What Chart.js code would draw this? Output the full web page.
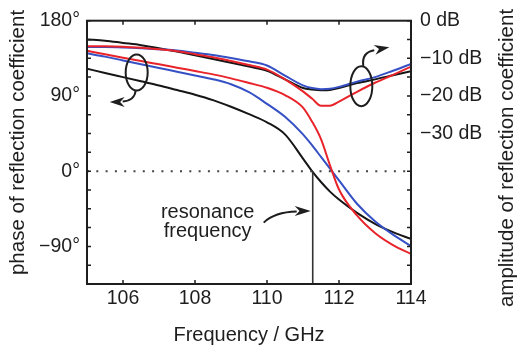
<!DOCTYPE html>
<html>
<head>
<meta charset="utf-8">
<script src="https://cdn.jsdelivr.net/npm/chart.js@4/dist/chart.umd.min.js"></script>
<style>
html,body{margin:0;padding:0;background:#fff;}
#wrap{width:517px;height:350px;}
</style>
</head>
<body>
<div id="wrap"><canvas id="c" width="517" height="350"></canvas></div>
<script>
// ---- data ----
const freq      = [105, 105.5, 106, 106.5, 107, 107.5, 108, 108.5, 109, 109.5, 110, 110.5, 111, 111.25, 111.5, 111.75, 112, 112.5, 113, 113.5, 114];
// phase of reflection coefficient (degrees, left axis)
const phaseBlack = [122.6, 117.5, 112.5, 107.5, 102.5, 97, 91.5, 85, 77, 68.2, 58.5, 44, 15, 0, -13, -24.5, -34, -50, -63, -73, -81];
const phaseBlue  = [141, 137, 132.5, 128, 123.5, 119, 114.5, 110, 104, 94.5, 80.5, 65, 44, 31, 17, 3, -11, -39, -60, -76, -89.5];
const phaseRed   = [144, 139.8, 135.7, 131.7, 127.8, 123.8, 119.8, 115.8, 111, 105.5, 99.8, 91, 76, 59.4, 38.3, 7, -22, -53, -74, -88.5, -99];
// amplitude of reflection coefficient (dB, right axis)
const ampBlack = [-5.0, -5.3, -5.9, -6.5, -7.3, -8.2, -9.2, -10.2, -11.2, -12.2, -13.3, -15.6, -17.9, -18.3, -18.5, -18.4, -17.9, -16.6, -15.6, -14.5, -13.4];
const ampBlue  = [-7.0, -7.0, -7.1, -7.3, -7.6, -7.9, -8.5, -9.1, -9.9, -10.8, -11.9, -14.6, -17.2, -17.9, -18.2, -18.1, -17.6, -16.2, -15.0, -13.3, -11.5];
const ampRed   = [-6.8, -6.8, -6.9, -7.2, -7.6, -8.1, -8.9, -9.7, -10.7, -11.8, -13.0, -15.6, -18.8, -20.7, -22.6, -22.6, -21.5, -18.9, -16.5, -14.4, -12.2];

const resonanceFreq = 111.27;
const freqRange  = [105, 114];
const phaseRange = [-135, 180];
const ampRange   = [-70, 0];

const freqTicks   = [106, 108, 110, 112, 114];
const phaseTicks  = [-90, 0, 90, 180];
const ampTicks    = [0, -10, -20, -30];
const ampMinorTicks = [0, -5, -10, -15, -20, -25, -30, -35, -40, -45, -50, -55, -60, -65, -70];

const xTitle = 'Frequency / GHz';
const yTitle = 'phase of reflection coefficient';
const y1Title = 'amplitude of reflection coefficient';
const noteLines = ['resonance', 'frequency'];

// ---- styling ----
const INK = '#1e1e1e';
const RED = '#e8232a';
const BLUE = '#3550c4';
const BLACK = '#161616';
const FONT = "'Liberation Sans', Arial, Helvetica, sans-serif";

const minus = v => (v < 0 ? '\u2212' : '') + Math.abs(v);
const pts = ys => freq.map((f, i) => ({x: f, y: ys[i]}));

function arrowHead(ctx, tx, ty, ang, len, half) {
  const bx = tx - Math.cos(ang) * len, by = ty - Math.sin(ang) * len;
  const nx = -Math.sin(ang), ny = Math.cos(ang);
  const mx = tx - Math.cos(ang) * len * 0.7, my = ty - Math.sin(ang) * len * 0.7;
  ctx.beginPath();
  ctx.moveTo(tx, ty);
  ctx.lineTo(bx + nx * half, by + ny * half);
  ctx.lineTo(mx, my);
  ctx.lineTo(bx - nx * half, by - ny * half);
  ctx.closePath();
  ctx.fill();
}

const annot = {
  id: 'annot',
  afterDraw(chart) {
    const {ctx, chartArea: a, scales: {x, y, y1}} = chart;
    ctx.save();
    ctx.strokeStyle = INK; ctx.fillStyle = INK;
    // frame
    ctx.lineWidth = 2;
    ctx.strokeRect(a.left, a.top, a.right - a.left, a.bottom - a.top);
    // inward ticks
    ctx.lineWidth = 1.5;
    ctx.beginPath();
    freqTicks.forEach(v => {
      const px = x.getPixelForValue(v);
      ctx.moveTo(px, a.bottom); ctx.lineTo(px, a.bottom - 4);
      ctx.moveTo(px, a.top); ctx.lineTo(px, a.top + 4);
    });
    ampMinorTicks.forEach(v => {
      const py = y1.getPixelForValue(v);
      ctx.moveTo(a.left, py); ctx.lineTo(a.left + 4, py);
      ctx.moveTo(a.right, py); ctx.lineTo(a.right - 4, py);
    });
    ctx.stroke();

    // left ellipse (phase curves) with arrow to the left
    ctx.lineWidth = 2;
    let cx = x.getPixelForValue(106.38), cy = y.getPixelForValue(118);
    ctx.beginPath(); ctx.ellipse(cx, cy, 11, 18, 0, 0, Math.PI * 2); ctx.stroke();
    ctx.beginPath();
    ctx.moveTo(cx - 1, cy + 18);
    ctx.quadraticCurveTo(cx - 2, cy + 28, cx - 14, cy + 29);
    ctx.stroke();
    arrowHead(ctx, cx - 27, cy + 29.5, Math.PI, 15, 5);

    // right ellipse (amplitude curves) with arrow to the right
    cx = x.getPixelForValue(112.62); cy = y1.getPixelForValue(-17.4);
    ctx.beginPath(); ctx.ellipse(cx, cy, 11, 20, 0, 0, Math.PI * 2); ctx.stroke();
    ctx.beginPath();
    ctx.moveTo(cx + 2, cy - 20);
    ctx.quadraticCurveTo(cx, cy - 34, cx + 13, cy - 36);
    ctx.stroke();
    arrowHead(ctx, cx + 28, cy - 39, -0.18, 15, 5);

    // resonance note
    const lx = x.getPixelForValue(resonanceFreq);
    const ty = y.getPixelForValue(-47.8);
    ctx.beginPath();
    ctx.moveTo(lx - 49, ty + 11.5);
    ctx.quadraticCurveTo(lx - 38, ty + 1, lx - 16, ty + 0.5);
    ctx.stroke();
    arrowHead(ctx, lx - 2, ty, 0, 16, 5);

    ctx.font = `20px ${FONT}`;
    ctx.textAlign = 'center'; ctx.textBaseline = 'alphabetic';
    const nx = x.getPixelForValue(108.35);
    ctx.fillText(noteLines[0], nx, ty + 6.5);
    ctx.fillText(noteLines[1], nx, ty + 26);

    // y axis titles (both read bottom-to-top)
    ctx.font = `20.5px ${FONT}`;
    ctx.textBaseline = 'middle';
    ctx.save();
    ctx.translate(18, 142.5); ctx.rotate(-Math.PI / 2);
    ctx.fillText(yTitle, 0, 0);
    ctx.restore();
    ctx.save();
    ctx.translate(507, 158); ctx.rotate(-Math.PI / 2);
    ctx.fillText(y1Title, 0, 0);
    ctx.restore();
    ctx.restore();
  }
};

const lineDs = (data, color, axis) => ({data, borderColor: color, yAxisID: axis, borderWidth: 2, pointRadius: 0, cubicInterpolationMode: 'monotone', fill: false});

new Chart(document.getElementById('c'), {
  type: 'line',
  data: {
    datasets: [
      {data: [{x: freqRange[0], y: 0}, {x: freqRange[1], y: 0}], yAxisID: 'y', borderColor: '#444', borderWidth: 2, borderDash: [2, 7.3], pointRadius: 0},
      {data: [{x: resonanceFreq, y: 0}, {x: resonanceFreq, y: phaseRange[0]}], yAxisID: 'y', borderColor: '#333', borderWidth: 1.6, pointRadius: 0},
      lineDs(pts(phaseRed), RED, 'y'),
      lineDs(pts(phaseBlue), BLUE, 'y'),
      lineDs(pts(phaseBlack), BLACK, 'y'),
      lineDs(pts(ampRed), RED, 'y1'),
      lineDs(pts(ampBlue), BLUE, 'y1'),
      lineDs(pts(ampBlack), BLACK, 'y1')
    ]
  },
  options: {
    responsive: false,
    animation: false,
    devicePixelRatio: 1,
    parsing: false,
    layout: {padding: {top: 15, left: 0, right: 0, bottom: 0}},
    plugins: {legend: {display: false}, tooltip: {enabled: false}},
    scales: {
      x: {
        type: 'linear', position: 'bottom', min: freqRange[0], max: freqRange[1],
        grid: {display: false, drawTicks: false}, border: {display: false},
        afterBuildTicks: s => { s.ticks = freqTicks.map(v => ({value: v})); },
        afterFit: s => { s.height = 66; },
        ticks: {padding: 3, color: INK, autoSkip: false, maxRotation: 0, font: {family: FONT, size: 19.5}, callback: v => String(v)},
        title: {display: true, text: xTitle, color: INK, font: {family: FONT, size: 20, lineHeight: 1}, padding: {top: 0, bottom: 5}}
      },
      y: {
        type: 'linear', position: 'left', min: phaseRange[0], max: phaseRange[1],
        grid: {display: false, drawTicks: false}, border: {display: false},
        afterBuildTicks: s => { s.ticks = phaseTicks.map(v => ({value: v})); },
        afterFit: s => { s.width = 87; },
        ticks: {padding: 7, color: INK, autoSkip: false, font: {family: FONT, size: 19.5}, callback: v => minus(v) + '\u00B0'}
      },
      y1: {
        type: 'linear', position: 'right', min: ampRange[0], max: ampRange[1],
        grid: {display: false, drawTicks: false}, border: {display: false},
        afterBuildTicks: s => { s.ticks = ampTicks.map(v => ({value: v})); },
        afterFit: s => { s.width = 106; },
        ticks: {padding: 9, color: INK, autoSkip: false, font: {family: FONT, size: 19.5}, callback: v => minus(v) + ' dB'}
      }
    }
  },
  plugins: [annot]
});
</script>
</body>
</html>
